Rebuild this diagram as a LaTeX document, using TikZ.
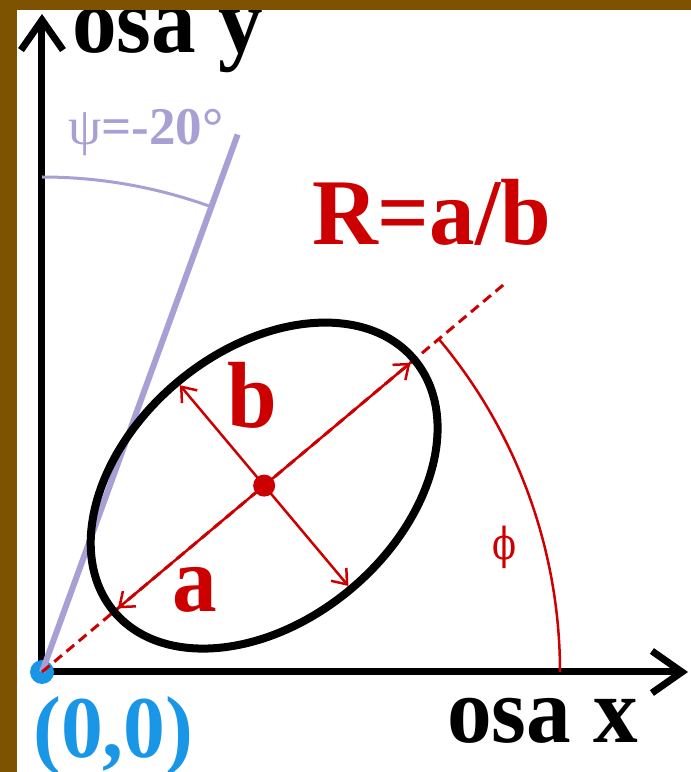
\documentclass[tikz,border=0pt]{standalone}
\usepackage{fontspec}
\setmainfont{Liberation Serif}
\newfontfamily\phifont{DejaVu Serif}
\usepackage{tikz}
\usetikzlibrary{arrows.meta,calc}
\definecolor{framebrown}{RGB}{125,82,0}
\definecolor{axisred}{RGB}{204,0,0}
\definecolor{psilav}{RGB}{168,160,212}
\definecolor{originblue}{RGB}{25,150,230}

\begin{document}
\begin{tikzpicture}[x=1pt, y=1pt,
    bigtxt/.style={font=\bfseries\fontsize{94}{94}\selectfont, inner sep=0pt, xscale=0.95, transform shape},
    axisline/.style={line width=7pt, -{Straight Barb[length=30pt, width=42pt]}},
    redarrow/.style={axisred, line width=2.5pt, -{Straight Barb[length=13pt, width=20pt]}}]
    \useasboundingbox (-42,-100) rectangle (649,672);
    \fill[white] (-42,-100) rectangle (649,672);
    % points of the figure
    \coordinate (O) at (0,0);
    \coordinate (C) at (40:290);
    \coordinate (Ya) at (0,658);
    \coordinate (Xa) at (646,0);
    \coordinate (A1) at ($(C)+(40:191)$);
    \coordinate (A2) at ($(C)+(220:191)$);
    \coordinate (B1) at ($(C)+(130:131)$);
    \coordinate (B2) at ($(C)+(310:131)$);
    \coordinate (D) at (40:603);
    \coordinate (Pl) at (70:572);
    \coordinate (Pa) at (90:495);
    \coordinate (Fa) at (0:518);
    % axes
    \draw[axisline] (O) -- (Ya);
    \draw[axisline] (O) -- (Xa);
    \fill[originblue] (O) circle (12);
    % tilt of the ellipse
    \draw[psilav, line width=6pt] (O) -- (Pl);
    \draw[psilav, line width=3pt] (Pa) arc (90:70:495);
    % major axis direction
    \draw[axisred, line width=3pt, dash pattern=on 10pt off 6pt] (O) -- (D);
    \draw[axisred, line width=2.5pt] (Fa) arc (0:40:518);
    % ellipse and its axes
    \draw[line width=8pt, rotate around={40:(C)}] (C) ellipse (196 and 135);
    \draw[redarrow] (C) -- (A1);
    \draw[redarrow] (C) -- (A2);
    \draw[redarrow] (C) -- (B1);
    \draw[redarrow] (C) -- (B2);
    \fill[axisred] (C) circle (11);
    % labels
    \node[bigtxt, anchor=base west] (ylab) at (30,619) {osa y};
    \node[bigtxt, anchor=base west] (xlab) at (405,-70) {osa x};
    \node[bigtxt, anchor=base west, originblue, font=\bfseries\fontsize{88}{88}\selectfont] (olab) at (-9,-85) {(0,0)};
    \node[bigtxt, anchor=base west, axisred, xscale=1.02] (rlab) at (270,427) {R=a/b};
    \node[bigtxt, anchor=base west, axisred] (blab) at (185,244) {b};
    \node[bigtxt, anchor=base west, axisred] (alab) at (130,60) {a};
    \node[anchor=base west, inner sep=0pt, psilav, font=\fontsize{53}{53}\selectfont] (psilab) at (26,527) {ψ\textbf{=-20°}};
    \node[inner sep=0pt, axisred, font=\phifont\fontsize{44}{44}\selectfont, xscale=0.8, transform shape] (philab) at (462,125) {ϕ};
    % frame
    \fill[framebrown] (-42,-100) rectangle (-25,672);
    \fill[framebrown] (-42,662) rectangle (649,672);
\end{tikzpicture}
\end{document}
